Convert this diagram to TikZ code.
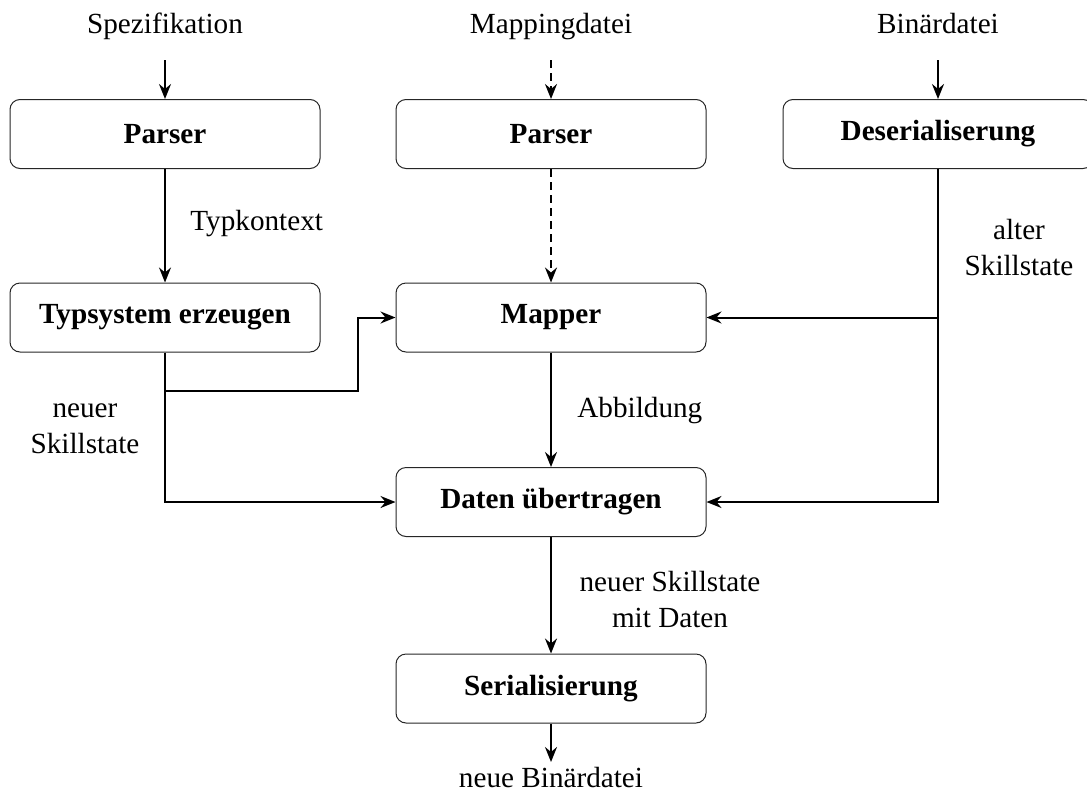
\documentclass[tikz,border=0pt]{standalone}
\usepackage{fontspec}
\setmainfont{Liberation Serif}
\usetikzlibrary{arrows.meta}

\tikzset{
  stage/.style={draw=black!85, line width=0.5pt, rounded corners=5pt,
    minimum width=155pt, minimum height=34.5pt, inner sep=0pt,
    font=\fontsize{14.6pt}{18pt}\selectfont\bfseries},
  lbl/.style={inner sep=0pt, align=center},
  flow/.style={line width=1pt, -{Stealth[length=7.5pt,width=6pt,inset=2.5pt]}},
  hint/.style={flow, dash pattern=on 4pt off 2.5pt},
}

\begin{document}
\begin{tikzpicture}[x=0.5pt, y=-0.5pt,
  font=\fontsize{14.6pt}{18pt}\selectfont]
\useasboundingbox (0,0) rectangle (1087,809);

% inputs
\node[lbl, anchor=base] (spec) at (165,33) {Spezifikation};
\node[lbl, anchor=base] (mapf) at (551,33) {Mappingdatei};
\node[lbl, anchor=base] (bin)  at (938,33) {Binärdatei};
\coordinate (specend) at (165,60);
\coordinate (mapfend) at (551,60);
\coordinate (binend)  at (938,60);

% stages
\node[stage] (parse1) at (165,134) {Parser};
\node[stage] (parse2) at (551,134) {Parser};
\node[stage] (deser)  at (938,134) {Deserialiserung};
\node[stage] (types)  at (165,317.5) {Typsystem erzeugen};
\node[stage] (mapper) at (551,317.5) {Mapper};
\node[stage] (copy)   at (551,502) {Daten übertragen};
\node[stage] (ser)    at (551,688.5) {Serialisierung};

% output
\node[lbl, anchor=base] (out) at (551,787) {neue Binärdatei};
\coordinate (outstart) at (551,762);

% bend points
\coordinate (bend) at (358,391);

% connectors
\draw[flow] (specend) -- (parse1);
\draw[hint] (mapfend) -- (parse2);
\draw[flow] (binend) -- (deser);
\draw[flow] (parse1) -- (types);
\draw[hint] (parse2) -- (mapper);
\draw[flow] (types.south) |- (bend) |- (mapper.west);
\draw[flow] (types.south) |- (copy.west);
\draw[flow] (deser.south) |- (mapper.east);
\draw[flow] (deser.south) |- (copy.east);
\draw[flow] (mapper) -- (copy);
\draw[flow] (copy) -- (ser);
\draw[flow] (ser) -- (outstart);

% labels
\node[lbl, anchor=base west] (lt) at (190,230) {Typkontext};
\node[lbl, anchor=base west] (la) at (577,417) {Abbildung};
\node[lbl] (lo) at (1019,248) {alter\\Skillstate};
\node[lbl] (ln) at (85,429) {neuer\\Skillstate};
\node[lbl] (ld) at (670,600) {neuer Skillstate\\mit Daten};
\end{tikzpicture}
\end{document}
